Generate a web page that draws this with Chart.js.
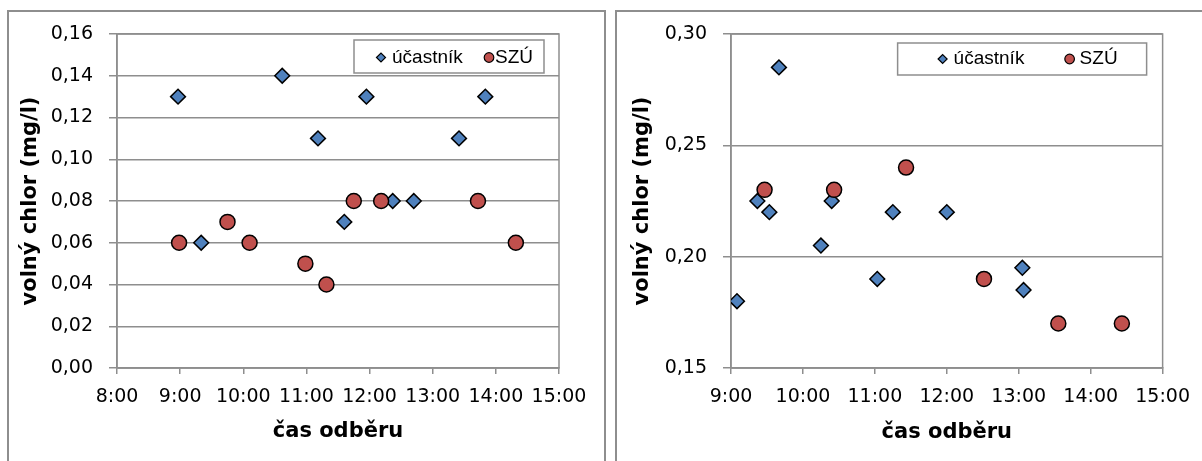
<!DOCTYPE html>
<html><head><meta charset="utf-8">
<script src="https://cdn.jsdelivr.net/npm/chart.js@4/dist/chart.umd.min.js"></script>
<style>
html,body{margin:0;padding:0;background:#fff;width:1202px;height:461px;overflow:hidden;position:relative;}
.frame{position:absolute;border:2px solid #8e8e8e;box-sizing:border-box;}
#f1{left:7px;top:10px;width:599px;height:480px;}
#f2{left:615px;top:10px;width:620px;height:480px;}
.cv{position:absolute;top:0;}
#w1{left:0;}
#w2{left:606px;}
canvas{display:block;}
</style></head><body>
<div class="frame" id="f1"></div><div class="frame" id="f2"></div>
<div class="cv" id="w1"><canvas id="c1" width="606" height="461"></canvas></div>
<div class="cv" id="w2"><canvas id="c2" width="596" height="461"></canvas></div>
<script>
// ---- data ----
const seriesNames = ['účastník', 'SZÚ'];

const leftUcastnikTimes  = ['8:58','9:20','10:37','11:11','11:36','11:57','12:22','12:42','13:25','13:50'];
const leftUcastnikValues = [0.13, 0.06, 0.14, 0.11, 0.07, 0.13, 0.08, 0.08, 0.11, 0.13];
const leftSzuTimes       = ['8:59','9:45','10:06','10:59','11:19','11:45','12:11','13:43','14:19'];
const leftSzuValues      = [0.06, 0.07, 0.06, 0.05, 0.04, 0.08, 0.08, 0.08, 0.06];

const rightUcastnikTimes  = ['9:05','9:22','9:32','9:40','10:15','10:24','11:02','11:15','12:00','13:03','13:04'];
const rightUcastnikValues = [0.18, 0.225, 0.22, 0.285, 0.205, 0.225, 0.19, 0.22, 0.22, 0.195, 0.185];
const rightSzuTimes       = ['9:28','10:26','11:26','12:31','13:33','14:26'];
const rightSzuValues      = [0.23, 0.23, 0.24, 0.19, 0.17, 0.17];

const leftXTickLabels  = ['8:00','9:00','10:00','11:00','12:00','13:00','14:00','15:00'];
const rightXTickLabels = ['9:00','10:00','11:00','12:00','13:00','14:00','15:00'];
const leftYTickLabels  = ['0,00','0,02','0,04','0,06','0,08','0,10','0,12','0,14','0,16'];
const rightYTickLabels = ['0,15','0,20','0,25','0,30'];

const xTitle = 'čas odběru';
const yTitle = 'volný chlor (mg/l)';

// ---- helpers ----
function toHours(t){ const [h,m] = t.split(':').map(Number); return h + m/60; }
function pts(times, vals){ return times.map((t,i)=>({x:toHours(t), y:vals[i]})); }

const GRID = '#8e8e8e';
const TICK_FONT = {family:"'DejaVu Sans', Verdana, sans-serif", size:19};
const TITLE_FONT = {family:"'DejaVu Sans', Verdana, sans-serif", size:21, weight:'bold'};
const LEG_FONT = "19px 'Liberation Sans', Arial, sans-serif";

const plotBorder = {
  id:'plotBorder',
  beforeDatasetsDraw(chart){
    const {ctx, chartArea:a} = chart;
    ctx.save(); ctx.strokeStyle = GRID; ctx.lineWidth = 1.5;
    ctx.strokeRect(a.left, a.top, a.right-a.left, a.bottom-a.top);
    ctx.restore();
  }
};

const boxLegend = {
  id:'boxLegend',
  afterDraw(chart, args, o){
    const {ctx, chartArea:a} = chart;
    const left = a.right - o.rightInset - o.width, top = a.top + o.topInset;
    ctx.save();
    ctx.fillStyle = '#fff'; ctx.fillRect(left, top, o.width, o.height);
    ctx.strokeStyle = GRID; ctx.lineWidth = 1.5; ctx.strokeRect(left, top, o.width, o.height);
    const cy = top + o.height/2 + o.dy;
    chart.data.datasets.forEach((ds, i) => {
      const it = o.items[i];
      ctx.fillStyle = ds.backgroundColor; ctx.strokeStyle = '#000'; ctx.lineWidth = 1.2;
      Chart.helpers.drawPoint(ctx, {pointStyle: ds.pointStyle, radius: it.r, borderWidth:1.2}, left + it.markerX, cy);
      ctx.fillStyle = '#000'; ctx.font = LEG_FONT; ctx.textBaseline = 'middle'; ctx.textAlign = 'left';
      ctx.fillText(ds.label, left + it.textX, cy);
    });
    ctx.restore();
  }
};

function makeChart(id, cfg){
  return new Chart(document.getElementById(id), {
    type:'scatter',
    data:{datasets:[
      {label:seriesNames[0], data:pts(cfg.uT, cfg.uV), pointStyle:'rectRot', pointRadius:7.4, pointHoverRadius:7.4,
       backgroundColor:'#4F81BD', borderColor:'#000', borderWidth:1.5, order:1},
      {label:seriesNames[1], data:pts(cfg.sT, cfg.sV), pointStyle:'circle', pointRadius:7.5, pointHoverRadius:7.5,
       backgroundColor:'#C0504D', borderColor:'#000', borderWidth:1.5, order:0}
    ]},
    options:{
      responsive:false, animation:false, devicePixelRatio:1,
      layout:{padding:{left:0, top:34, right:cfg.padRight, bottom:0}},
      plugins:{legend:{display:false}, tooltip:{enabled:false}, boxLegend:cfg.legend},
      scales:{
        x:{type:'linear', min:cfg.xMin, max:cfg.xMax,
           ticks:{stepSize:1, autoSkip:false, maxRotation:0, color:'#000', font:TICK_FONT, padding:12,
                  callback:(v,i)=>cfg.xLabels[i]},
           grid:{drawOnChartArea:false, drawTicks:true, tickLength:6, color:GRID, lineWidth:1.5},
           border:{display:true, color:GRID, width:1.5},
           title:{display:true, text:xTitle, color:'#000', font:TITLE_FONT, padding:{top:0, bottom:cfg.xTitlePad}},
           afterFit:s=>{ s.height = 93; }},
        y:{min:cfg.yMin, max:cfg.yMax,
           ticks:{stepSize:cfg.yStep, color:'#000', font:TICK_FONT, padding:16,
                  callback:(v,i)=>cfg.yLabels[i]},
           grid:{color:GRID, lineWidth:1.5, tickLength:8},
           border:{display:true, color:GRID, width:1.5},
           title:{display:true, text:yTitle, color:'#000', font:TITLE_FONT, padding:{top:cfg.yTitlePad, bottom:0}},
           afterFit:s=>{ s.width = cfg.yWidth; }}
      }
    },
    plugins:[plotBorder, boxLegend]
  });
}

makeChart('c1', {
  uT:leftUcastnikTimes, uV:leftUcastnikValues, sT:leftSzuTimes, sV:leftSzuValues,
  xMin:8, xMax:15, yMin:0, yMax:0.16, yStep:0.02,
  xLabels:leftXTickLabels, yLabels:leftYTickLabels,
  padRight:47, yWidth:117, yTitlePad:18, xTitlePad:17,
  legend:{rightInset:15, topInset:6, width:190, height:33, dy:1,
          items:[{markerX:27, textX:38, r:4.5},{markerX:135, textX:141, r:4.8}]}
});
makeChart('c2', {
  uT:rightUcastnikTimes, uV:rightUcastnikValues, sT:rightSzuTimes, sV:rightSzuValues,
  xMin:9, xMax:15, yMin:0.15, yMax:0.30, yStep:0.05,
  xLabels:rightXTickLabels, yLabels:rightYTickLabels,
  padRight:35, yWidth:125, yTitlePad:24, xTitlePad:16,
  legend:{rightInset:16, topInset:9, width:249, height:32, dy:0,
          items:[{markerX:45, textX:56, r:4.5},{markerX:172, textX:182, r:4.8}]}
});
</script>
</body></html>
